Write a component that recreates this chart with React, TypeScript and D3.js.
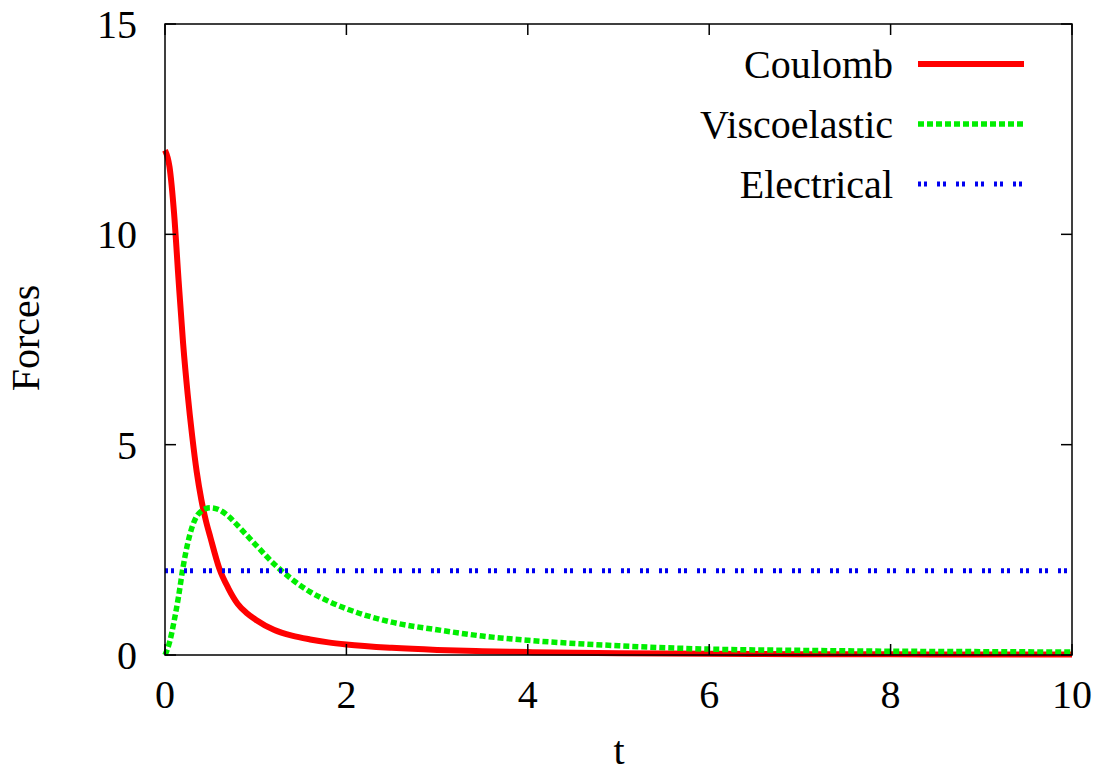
import { curveMonotoneX, line, scaleLinear } from "d3";

const width = 1107;
const height = 774;
const margin = { top: 24, right: 35, bottom: 119, left: 165 };

const tValues = [
  0, 0.05, 0.1, 0.15, 0.2, 0.25, 0.3, 0.35, 0.4, 0.45, 0.5, 0.6, 0.7, 0.8, 0.9,
  1.0, 1.2, 1.4, 1.6, 1.8, 2.0, 2.5, 3, 3.5, 4, 5, 6, 7, 8, 9, 10
];

const coulomb = [
  12, 11.6, 10.5, 8.9, 7.4, 6.2, 5.2, 4.35, 3.7, 3.2, 2.8, 2.05, 1.58, 1.22,
  1.0, 0.84, 0.6, 0.46, 0.37, 0.3, 0.25, 0.17, 0.12, 0.09, 0.07, 0.04, 0.03,
  0.02, 0.015, 0.01, 0.01
];

const viscoelastic = [
  0, 0.3, 0.8, 1.4, 2.1, 2.65, 3.05, 3.3, 3.42, 3.48, 3.5, 3.45, 3.3, 3.08,
  2.85, 2.62, 2.17, 1.8, 1.5, 1.28, 1.1, 0.78, 0.6, 0.45, 0.35, 0.22, 0.14,
  0.11, 0.09, 0.08, 0.07
];

const electrical = tValues.map(() => 2);

const xTicks = [0, 2, 4, 6, 8, 10];
const yTicks = [0, 5, 10, 15];

const seriesList = [
  { name: "Coulomb", values: coulomb, color: "#ff0000", width: 6, dash: "none" },
  { name: "Viscoelastic", values: viscoelastic, color: "#00ee00", width: 5.5, dash: "6,3" },
  { name: "Electrical", values: electrical, color: "#0000f0", width: 5, dash: "3,3,3,10" }
];

const font = "'Liberation Serif', 'Times New Roman', serif";

function App() {
  const innerWidth = width - margin.left - margin.right;
  const innerHeight = height - margin.top - margin.bottom;

  const x = scaleLinear().domain([0, 10]).range([0, innerWidth]);
  const y = scaleLinear().domain([0, 15]).range([innerHeight, 0]);

  const pathFor = (values: number[]) =>
    line<number>()
      .x((_, i) => x(tValues[i]))
      .y((d) => y(d))
      .curve(curveMonotoneX)(values) ?? "";

  const tickLen = 11;

  return (
    <svg
      width={width}
      height={height}
      style={{ position: "absolute", left: 0, top: 0, background: "#fff" }}
      fontFamily={font}
    >
      <g transform={`translate(${margin.left}, ${margin.top})`}>
        {seriesList.map((s) => (
          <path
            key={s.name}
            d={pathFor(s.values)}
            fill="none"
            stroke={s.color}
            strokeWidth={s.width}
            strokeDasharray={s.dash}
            strokeLinejoin="round"
          />
        ))}

        <rect
          x={0}
          y={0}
          width={innerWidth}
          height={innerHeight}
          fill="none"
          stroke="#000"
          strokeWidth={1.5}
        />

        {xTicks.map((t) => (
          <g key={`x-${t}`}>
            <line x1={x(t)} x2={x(t)} y1={innerHeight} y2={innerHeight - tickLen} stroke="#000" strokeWidth={1.5} />
            <line x1={x(t)} x2={x(t)} y1={0} y2={tickLen} stroke="#000" strokeWidth={1.5} />
            <text x={x(t)} y={innerHeight + 53} textAnchor="middle" fontSize={40}>
              {t}
            </text>
          </g>
        ))}

        {yTicks.map((v) => (
          <g key={`y-${v}`}>
            <line x1={0} x2={tickLen} y1={y(v)} y2={y(v)} stroke="#000" strokeWidth={1.5} />
            <line x1={innerWidth} x2={innerWidth - tickLen} y1={y(v)} y2={y(v)} stroke="#000" strokeWidth={1.5} />
            <text x={-28} y={y(v) + 14} textAnchor="end" fontSize={40}>
              {v}
            </text>
          </g>
        ))}

        {seriesList.map((s, i) => {
          const rowY = 40 + i * 60;
          return (
            <g key={`legend-${s.name}`}>
              <text x={728} y={rowY + 14} textAnchor="end" fontSize={40}>
                {s.name}
              </text>
              <line
                x1={753}
                x2={859}
                y1={rowY}
                y2={rowY}
                stroke={s.color}
                strokeWidth={s.width}
                strokeDasharray={s.dash}
              />
            </g>
          );
        })}
      </g>

      <text x={619} y={764} textAnchor="middle" fontSize={40}>
        t
      </text>
      <text
        transform="translate(39, 338) rotate(-90)"
        textAnchor="middle"
        fontSize={40}
      >
        Forces
      </text>
    </svg>
  );
}

export default App;
